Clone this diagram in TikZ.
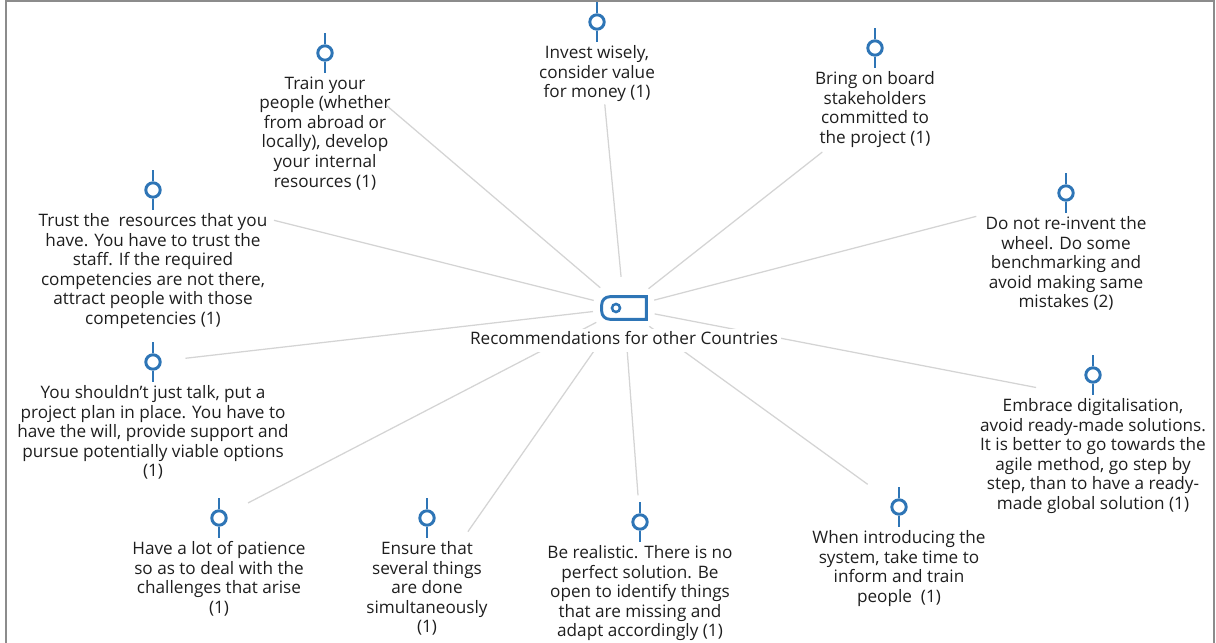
\documentclass[tikz,border=0pt]{standalone}
\usepackage{fontspec}
\setmainfont{Open Sans}
\definecolor{recblue}{RGB}{46,117,182}
\definecolor{recgray}{RGB}{212,212,212}
\definecolor{rectext}{RGB}{30,30,30}
\definecolor{recframe}{RGB}{140,140,140}
\usetikzlibrary{positioning}

\begin{document}
\begin{tikzpicture}[
  x=0.025cm, y=-0.025cm,
  marker/.style={
    circle, draw=recblue, line width=2.1pt,
    minimum size=0.36cm, inner sep=0pt
  },
  stem/.style={draw=recblue, line width=2.1pt},
  leaf/.style={
    font=\fontsize{12.2}{13.9}\selectfont,
    text=rectext, align=center, inner sep=0pt,
    execute at begin node=\strut
  },
  link/.style={draw=recgray, line width=0.9pt, shorten <=0.78cm}
]
\useasboundingbox (0,0) rectangle (1216,643);
\draw[recframe, line width=1.6pt] (6,643) -- (6,1) -- (1214,1) -- (1214,643);

% centre
\node[minimum width=1.1cm, minimum height=0.55cm, inner sep=0pt] (hub) at (624,308) {};
\draw[recblue, line width=2.1pt]
  (hub.north east) -- (hub.south east)
  -- ([xshift=0.2cm]hub.south west) arc[start angle=270, end angle=180, radius=0.2cm]
  -- ([yshift=-0.2cm]hub.north west) arc[start angle=180, end angle=90, radius=0.2cm]
  -- cycle;
\draw[recblue, line width=1.8pt] (616,308) circle[radius=4];

% markers
\node[marker] (i1)  at (597,22)  {};
\node[marker] (i2)  at (325,53)  {};
\node[marker] (i3)  at (875,48)  {};
\node[marker] (i4)  at (153,190) {};
\node[marker] (i5)  at (1066,193) {};
\node[marker] (i6)  at (153,362) {};
\node[marker] (i7)  at (1093,375) {};
\node[marker] (i8)  at (219,518) {};
\node[marker] (i9)  at (427,518) {};
\node[marker] (i10) at (640,522) {};
\node[marker] (i11) at (899,507) {};
\foreach \n in {i1,i2,i3,i4,i5,i6,i7,i8,i9,i10,i11}
  \draw[stem] (\n.north) -- ++(0,-11) (\n.south) -- ++(0,11);

% texts
\node[leaf, below=0.37cm of i1] (t1) {Invest wisely,\\consider value\\for money (1)};
\node[leaf, below=0.37cm of i2] (t2) {Train your\\people (whether\\from abroad or\\locally), develop\\your internal\\resources (1)};
\node[leaf, below=0.37cm of i3] (t3) {Bring on board\\stakeholders\\committed to\\the project (1)};
\node[leaf, below=0.37cm of i4] (t4) {Trust the \ resources that you\\have. You have to trust the\\staff. If the required\\competencies are not there,\\attract people with those\\competencies (1)};
\node[leaf, below=0.37cm of i5] (t5) {Do not re-invent the\\wheel. Do some\\benchmarking and\\avoid making same\\mistakes (2)};
\node[leaf, below=0.37cm of i6] (t6) {You shouldn't just talk, put a\\project plan in place. You have to\\have the will, provide support and\\pursue potentially viable options\\(1)};
\node[leaf, below=0.37cm of i7] (t7) {Embrace digitalisation,\\avoid ready-made solutions.\\It is better to go towards the\\agile method, go step by\\step, than to have a ready-\\made global solution (1)};
\node[leaf, below=0.37cm of i8] (t8) {Have a lot of patience\\so as to deal with the\\challenges that arise\\(1)};
\node[leaf, below=0.37cm of i9] (t9) {Ensure that\\several things\\are done\\simultaneously\\(1)};
\node[leaf, below=0.37cm of i10] (t10) {Be realistic. There is no\\perfect solution. Be\\open to identify things\\that are missing and\\adapt accordingly (1)};
\node[leaf, below=0.37cm of i11] (t11) {When introducing the\\system, take time to\\inform and train\\people \ (1)};

% connectors
\draw[link, shorten >=1.85cm] (hub.center) -- (i1);
\draw[link, shorten >=1.8cm]  (hub.center) -- (i2);
\draw[link, shorten >=0.1cm]  (hub.center) -- (t3);
\draw[link, shorten >=2.9cm]  (hub.center) -- (i4);
\draw[link, shorten >=2.1cm]  (hub.center) -- (i5);
\draw[link, shorten >=0.6cm]  (hub.center) -- (i6);
\draw[link, shorten >=1.45cm] (hub.center) -- (t7.north);
\draw[link, shorten >=0.6cm]  (hub.center) -- (i8);
\draw[link, shorten >=0.3cm]  (hub.center) -- (t9);
\draw[link, shorten >=0.45cm] (hub.center) -- (i10);
\draw[link, shorten >=0.75cm] (hub.center) -- (i11);

\node[leaf, fill=white, inner xsep=2pt, inner ysep=1pt, below=0.24cm of hub] (root) {Recommendations for other Countries};
\end{tikzpicture}
\end{document}
